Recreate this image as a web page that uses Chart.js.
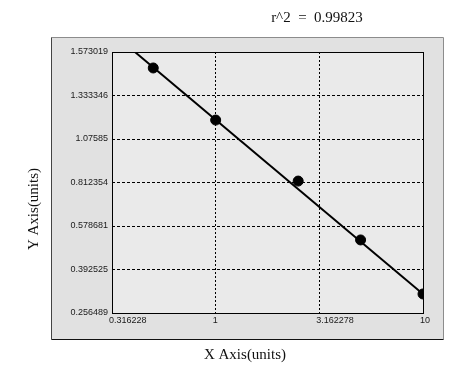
<!DOCTYPE html>
<html>
<head>
<meta charset="utf-8">
<title>Standard curve</title>
<script src="https://cdn.jsdelivr.net/npm/chart.js@4.4.1/dist/chart.umd.min.js"></script>
<style>
    html, body { margin: 0; padding: 0; background: #fff; }
    canvas { display: block; }
</style>
</head>
<body>
<canvas id="curveChart" width="460" height="373"></canvas>
<script>
// values
const concX = [0.5, 1, 2.5, 5, 10];
const signalY = [1.485, 1.188, 0.821, 0.519, 0.316];
const fitX = [0.408, 10];
const fitY = [1.573019, 0.316];
const xTicks = [0.316228, 1, 3.162278, 10];
const yTicks = [1.573019, 1.333346, 1.07585, 0.812354, 0.578681, 0.392525, 0.256489];
const rSquared = '0.99823';

// y axis ticks are evenly spaced on screen, so map a value to its tick slot
function yPos(v) {
    const n = yTicks.length - 1;
    for (let i = 0; i < n; i++) {
        const hi = yTicks[i], lo = yTicks[i + 1];
        if (v <= hi && v >= lo) {
            return n - (i + (hi - v) / (hi - lo));
        }
    }
    return v > yTicks[0] ? n : 0;
}

function toPoints(xs, ys) {
    return xs.map(function(x, i) {
        return { x: x, y: yPos(ys[i]) };
    });
}

// edge grid lines are covered by the solid frame, so skip them
function innerGrid(ctx) {
    const last = ctx.scale.ticks.length - 1;
    return (ctx.index === 0 || ctx.index === last) ? 'rgba(0,0,0,0)' : '#000';
}

const panelPlugin = {
    id: 'panel',
    beforeDraw: function(chart) {
        const ctx = chart.ctx;
        const a = chart.chartArea;
        ctx.save();
        ctx.fillStyle = '#ffffff';
        ctx.fillRect(0, 0, chart.width, chart.height);
        // outer gray panel
        ctx.fillStyle = '#e1e1e1';
        ctx.fillRect(51, 37, 392, 302);
        ctx.lineWidth = 1;
        ctx.strokeStyle = '#8c8c8c';
        ctx.beginPath();
        ctx.moveTo(51.5, 37.5); ctx.lineTo(443.5, 37.5); ctx.lineTo(443.5, 339.5);
        ctx.stroke();
        ctx.strokeStyle = '#444';
        ctx.beginPath();
        ctx.moveTo(51.5, 37.5); ctx.lineTo(51.5, 339.5);
        ctx.stroke();
        ctx.strokeStyle = '#111';
        ctx.beginPath();
        ctx.moveTo(51.5, 339.5); ctx.lineTo(443.5, 339.5);
        ctx.stroke();
        // plot area
        ctx.fillStyle = '#eaeaea';
        ctx.fillRect(a.left, a.top, a.right - a.left, a.bottom - a.top);
        ctx.restore();
    },
    beforeDatasetsDraw: function(chart) {
        const ctx = chart.ctx;
        const a = chart.chartArea;
        ctx.save();
        ctx.strokeStyle = '#000';
        ctx.lineWidth = 1;
        ctx.strokeRect(a.left + 0.5, a.top + 0.5, a.right - a.left, a.bottom - a.top);
        ctx.restore();
    },
    afterDraw: function(chart) {
        const ctx = chart.ctx;
        ctx.save();
        ctx.fillStyle = '#111';
        ctx.font = '15px "Liberation Serif", "DejaVu Serif", serif';
        ctx.textAlign = 'center';
        ctx.textBaseline = 'middle';
        ctx.fillText('r^2  =  ' + rSquared, 317, 18);
        ctx.fillText('X Axis(units)', 245, 355);
        ctx.translate(34, 209);
        ctx.rotate(-Math.PI / 2);
        ctx.fillText('Y Axis(units)', 0, 0);
        ctx.restore();
    }
};

const tickFont = { family: '"Liberation Sans", Arial, sans-serif', size: 9 };

new Chart(document.getElementById('curveChart'), {
    type: 'scatter',
    data: {
        datasets: [{
            label: 'fit',
            data: toPoints(fitX, fitY),
            showLine: true,
            borderColor: '#000',
            borderWidth: 2,
            pointRadius: 0
        }, {
            label: 'standards',
            data: toPoints(concX, signalY),
            backgroundColor: '#000',
            borderColor: '#000',
            pointRadius: 5
        }]
    },
    options: {
        responsive: false,
        animation: false,
        layout: {
            padding: { left: 0, right: 37, top: 52, bottom: 0 }
        },
        plugins: {
            legend: { display: false },
            tooltip: { enabled: false }
        },
        scales: {
            x: {
                type: 'logarithmic',
                bounds: 'data',
                min: xTicks[0],
                max: xTicks[xTicks.length - 1],
                afterBuildTicks: function(scale) {
                    scale.ticks = xTicks.map(function(v) { return { value: v }; });
                },
                afterFit: function(scale) {
                    scale.height = 60;
                },
                grid: {
                    color: innerGrid,
                    lineWidth: 1,
                    drawTicks: false
                },
                border: { display: false, dash: [2, 2] },
                ticks: {
                    autoSkip: false,
                    maxRotation: 0,
                    align: 'start',
                    labelOffset: -3,
                    padding: 2,
                    color: '#1a1a1a',
                    font: tickFont,
                    callback: function(value) { return String(value); }
                }
            },
            y: {
                type: 'linear',
                min: 0,
                max: yTicks.length - 1,
                afterFit: function(scale) {
                    scale.width = 112;
                },
                grid: {
                    color: innerGrid,
                    lineWidth: 1,
                    drawTicks: false
                },
                border: { display: false, dash: [3, 2] },
                ticks: {
                    stepSize: 1,
                    autoSkip: false,
                    padding: 4,
                    color: '#1a1a1a',
                    font: tickFont,
                    callback: function(value) {
                        return String(yTicks[yTicks.length - 1 - value]);
                    }
                }
            }
        }
    },
    plugins: [panelPlugin]
});
</script>
</body>
</html>
